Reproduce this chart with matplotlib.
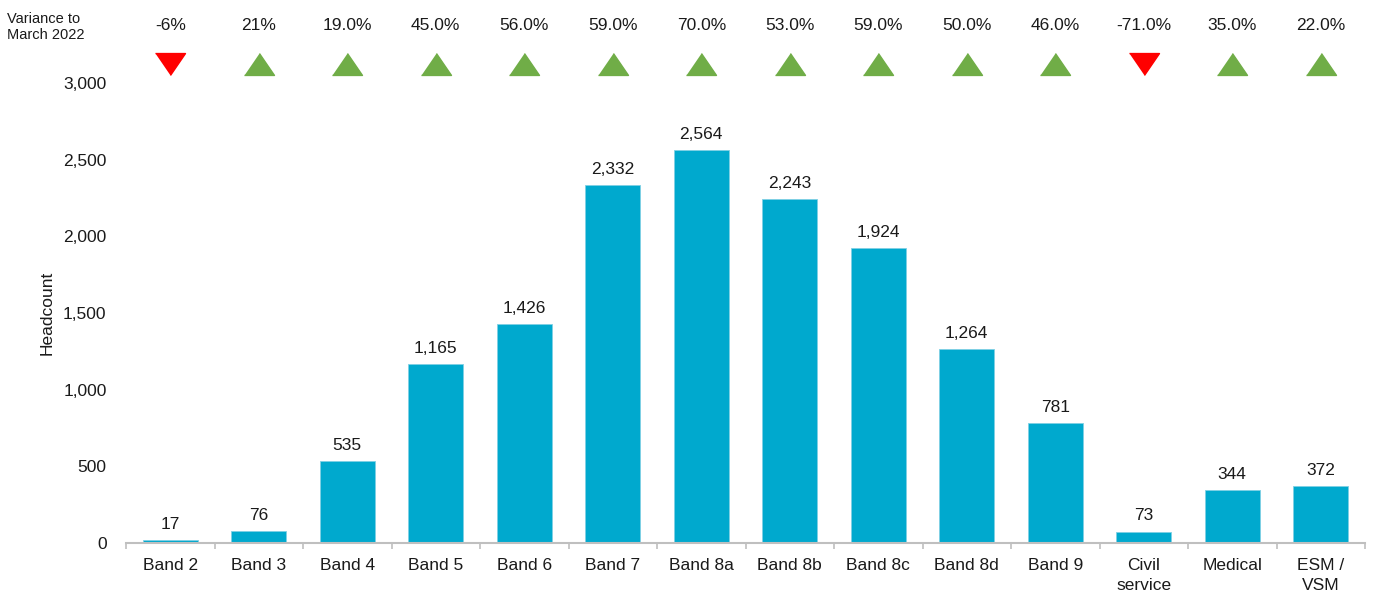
import matplotlib.pyplot as plt
import numpy as np

plt.rcParams['font.family'] = ['Liberation Sans', 'DejaVu Sans']

categories = ['Band 2', 'Band 3', 'Band 4', 'Band 5', 'Band 6', 'Band 7', 'Band 8a',
              'Band 8b', 'Band 8c', 'Band 8d', 'Band 9', 'Civil\nservice', 'Medical', 'ESM /\nVSM']
headcount = [17, 76, 535, 1165, 1426, 2332, 2564, 2243, 1924, 1264, 781, 73, 344, 372]
variance_labels = ['-6%', '21%', '19.0%', '45.0%', '56.0%', '59.0%', '70.0%',
                   '53.0%', '59.0%', '50.0%', '46.0%', '-71.0%', '35.0%', '22.0%']
variance_up = [False, True, True, True, True, True, True, True, True, True, True, False, True, True]

bar_color = '#00A9CE'
up_color = '#70AD47'
down_color = '#FF0000'

fig = plt.figure(figsize=(13.73, 5.93), dpi=100)
ax = fig.add_axes([0.0918, 0.0843, 0.9024, 0.7757])

x = np.arange(len(categories))
bars = ax.bar(x, headcount, width=0.62, color=bar_color, edgecolor='#7fd0e4', linewidth=0.6)

for xi, v in zip(x, headcount):
    ax.annotate(f'{v:,}', (xi, v), xytext=(0, 6), textcoords='offset points',
                ha='center', va='bottom', fontsize=12.5, color='#1a1a1a')

ax.set_xlim(-0.5, len(categories) - 0.5)
ax.set_ylim(0, 3000)
ax.set_yticks(np.arange(0, 3001, 500))
ax.yaxis.set_major_formatter(plt.FuncFormatter(lambda v, p: f'{int(v):,}'))
ax.set_xticks(x)
ax.set_xticklabels(categories, fontsize=12.5, linespacing=1.4)
ax.set_xticks(np.arange(-0.5, len(categories)), minor=True)
ax.tick_params(axis='x', which='major', length=0, pad=11, colors='#1a1a1a')
ax.tick_params(axis='x', which='minor', length=4, width=1.2, color='#BFBFBF', direction='out')
ax.tick_params(axis='y', length=0, pad=14, labelsize=12.5, colors='#1a1a1a')

for s in ['top', 'right', 'left']:
    ax.spines[s].set_visible(False)
ax.spines['bottom'].set_color('#BFBFBF')
ax.spines['bottom'].set_linewidth(1.5)

ax.set_ylabel('Headcount', fontsize=12.5, color='#1a1a1a')
ax.yaxis.set_label_coords(-0.058, 0.5)

# variance row above the plot
trans = ax.get_xaxis_transform()
up_marker = [(-1, -0.73), (1, -0.73), (0, 0.73)]
down_marker = [(-1, 0.73), (1, 0.73), (0, -0.73)]
for xi, lab, up in zip(x, variance_labels, variance_up):
    ax.text(xi, 1.124, lab, transform=trans, ha='center', va='center',
            fontsize=12.5, color='#1a1a1a', clip_on=False)
    ax.plot([xi], [1.041], transform=trans, marker=up_marker if up else down_marker,
            markersize=21.6, color=up_color if up else down_color,
            linestyle='none', clip_on=False)

fig.text(0.005, 0.955, 'Variance to\nMarch 2022', ha='left', va='center',
         fontsize=10.5, color='#1a1a1a', linespacing=1.2)

fig.savefig('out.png', dpi=100)
